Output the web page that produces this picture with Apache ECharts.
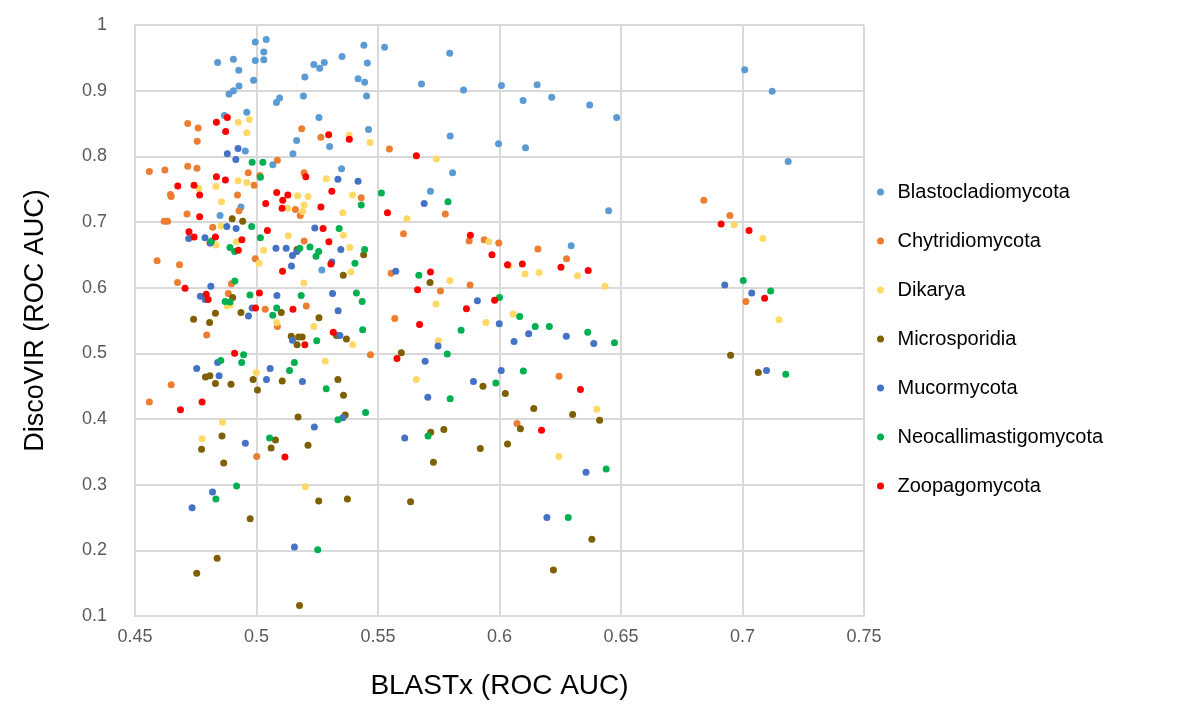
<!DOCTYPE html>
<html><head><meta charset="utf-8">
<script src="https://cdn.jsdelivr.net/npm/echarts@6/dist/echarts.min.js"></script>
<style>html,body{margin:0;padding:0;background:#fff}#c{width:1180px;height:705px}</style>
</head><body><div id="c"></div>
<script>
const seriesNames = ["Blastocladiomycota","Chytridiomycota","Dikarya","Microsporidia","Mucormycota","Neocallimastigomycota","Zoopagomycota"];
const seriesColors = ["#5B9BD5","#ED7D31","#FFD966","#7F6000","#4472C4","#00B050","#FF0000"];
const xTicks = [0.45,0.5,0.55,0.6,0.65,0.7,0.75];
const yTicks = [0.1,0.2,0.3,0.4,0.5,0.6,0.7,0.8,0.9,1];

const blastocladiomycota = [[0.504,0.978],[0.4995,0.974],[0.503,0.959],[0.4905,0.948],[0.484,0.943],[0.4995,0.946],[0.503,0.947],[0.4927,0.931],[0.4988,0.916],[0.4928,0.907],[0.4905,0.900],[0.4887,0.895],[0.5236,0.940],[0.526,0.934],[0.5199,0.921],[0.5095,0.889],[0.5082,0.882],[0.5193,0.892],[0.496,0.867],[0.4868,0.862],[0.5257,0.859],[0.5165,0.824],[0.515,0.804],[0.4954,0.808],[0.5067,0.787],[0.4936,0.723],[0.485,0.710],
[0.5442,0.969],[0.5527,0.966],[0.5352,0.952],[0.5279,0.943],[0.5456,0.942],[0.5418,0.918],[0.5445,0.913],[0.5795,0.957],[0.5679,0.910],[0.5852,0.901],[0.6008,0.908],[0.5453,0.892],[0.5461,0.841],[0.5797,0.831],[0.5996,0.819],[0.5301,0.815],[0.535,0.781],[0.5807,0.775],[0.5716,0.747],
[0.6155,0.909],[0.6097,0.885],[0.6215,0.890],[0.6371,0.878],[0.6482,0.859],[0.6107,0.813],[0.6449,0.717],
[0.7009,0.932],[0.7122,0.899],[0.7188,0.792],[0.6295,0.664],[0.5269,0.627]];

const chytridiomycota = [[0.4717,0.850],[0.476,0.843],[0.4756,0.823],[0.5186,0.842],[0.5265,0.829],[0.5086,0.794],[0.4559,0.777],[0.4623,0.779],[0.4717,0.785],[0.4755,0.782],[0.4966,0.775],[0.5014,0.771],[0.499,0.756],[0.5196,0.775],[0.4646,0.742],[0.4649,0.739],[0.4922,0.741],[0.4928,0.717],[0.4714,0.712],[0.516,0.719],[0.518,0.710],[0.462,0.701],[0.4634,0.701],
[0.5547,0.811],[0.5431,0.737],[0.5777,0.712],[0.6841,0.733],[0.6948,0.710],[0.7014,0.579],
[0.6158,0.659],[0.6276,0.644],[0.6245,0.465],[0.6072,0.393],
[0.5605,0.682],[0.5875,0.671],[0.5937,0.673],[0.5997,0.668],[0.5554,0.622],[0.5879,0.604],[0.5757,0.595],[0.5569,0.553],[0.5469,0.498],[0.5001,0.343],
[0.482,0.692],[0.4808,0.668],[0.4995,0.644],[0.5196,0.671],[0.4591,0.641],[0.4683,0.635],[0.4675,0.608],[0.4897,0.606],[0.4884,0.591],[0.5036,0.567],[0.5205,0.572],[0.5086,0.541],[0.4795,0.528],[0.4649,0.452],[0.4559,0.426]];

const dikarya = [[0.4925,0.852],[0.497,0.856],[0.496,0.836],[0.4924,0.763],[0.496,0.760],[0.4833,0.754],[0.4763,0.751],[0.5169,0.740],[0.5212,0.739],[0.4856,0.731],[0.5196,0.726],[0.5128,0.721],[0.519,0.716],
[0.5381,0.832],[0.5467,0.821],[0.574,0.796],[0.5287,0.766],[0.5395,0.741],[0.5355,0.714],[0.5619,0.705],
[0.6966,0.696],[0.7084,0.675],[0.715,0.551],
[0.6039,0.633],[0.6105,0.621],[0.6163,0.623],[0.6321,0.618],[0.6434,0.602],[0.6056,0.560],[0.64,0.415],[0.6244,0.343],
[0.5358,0.680],[0.5384,0.661],[0.5388,0.624],[0.5956,0.670],[0.5796,0.611],[0.5739,0.575],[0.5944,0.547],[0.5396,0.513],[0.5748,0.519],[0.5283,0.488],[0.5658,0.460],
[0.486,0.395],[0.4776,0.370],[0.5201,0.297],
[0.4854,0.694],[0.4833,0.665],[0.4917,0.670],[0.5029,0.657],[0.5011,0.637],[0.5131,0.679],[0.5195,0.607],[0.488,0.572],[0.4893,0.574],[0.5083,0.547],[0.5236,0.541],[0.4999,0.471]];

const microsporidia = [[0.490,0.705],[0.4943,0.701],[0.6951,0.497],[0.7065,0.471],
[0.6024,0.439],[0.6141,0.416],[0.6301,0.407],[0.6412,0.398],[0.6086,0.385],[0.6033,0.362],[0.6380,0.217],[0.6222,0.170],
[0.5441,0.650],[0.5357,0.619],[0.5714,0.608],[0.5329,0.527],[0.537,0.522],[0.5596,0.501],[0.5932,0.450],[0.5335,0.460],[0.5358,0.436],[0.5365,0.406],
[0.5717,0.380],[0.5771,0.384],[0.5921,0.355],[0.5728,0.334],[0.5374,0.278],[0.5634,0.274],
[0.4858,0.374],[0.4774,0.354],[0.5078,0.368],[0.506,0.356],[0.5212,0.360],[0.4865,0.333],[0.4974,0.248],[0.5256,0.275],[0.4838,0.188],[0.4754,0.165],[0.5177,0.116],
[0.5167,0.658],[0.4902,0.585],[0.5102,0.562],[0.4936,0.562],[0.4831,0.561],[0.4741,0.552],[0.4807,0.547],[0.5257,0.554],[0.5143,0.526],[0.5173,0.525],[0.5188,0.525],[0.5167,0.513],[0.479,0.464],[0.4808,0.466],[0.4831,0.454],[0.4895,0.453],[0.4986,0.460],[0.5106,0.458],[0.5004,0.444],[0.5171,0.403]];

const mucormycota = [[0.4924,0.812],[0.488,0.804],[0.4915,0.795],[0.5335,0.765],[0.5418,0.762],[0.569,0.728],
[0.6927,0.604],[0.7038,0.592],[0.7099,0.474],[0.612,0.530],[0.606,0.518],[0.6275,0.526],[0.6388,0.515],[0.6356,0.319],[0.6195,0.250],
[0.5347,0.658],[0.531,0.639],[0.5573,0.625],[0.5313,0.591],[0.5909,0.580],[0.5336,0.565],[0.5999,0.545],[0.5343,0.527],[0.5747,0.511],[0.5694,0.488],[0.6007,0.474],[0.5893,0.457],[0.5705,0.433],[0.5355,0.402],[0.561,0.371],
[0.4954,0.363],[0.5238,0.388],[0.4819,0.289],[0.4735,0.265],[0.5156,0.205],
[0.4721,0.675],[0.4788,0.676],[0.481,0.668],[0.4878,0.693],[0.4916,0.690],[0.508,0.660],[0.5122,0.660],[0.5148,0.649],[0.5166,0.655],[0.524,0.691],[0.5144,0.633],[0.4812,0.602],[0.4769,0.587],[0.4789,0.582],[0.5084,0.588],[0.4982,0.569],[0.4967,0.557],[0.5148,0.520],[0.484,0.486],[0.4754,0.477],[0.4846,0.466],[0.5056,0.477],[0.5041,0.460],[0.5189,0.457]];

const neocallimastigomycota = [[0.4982,0.791],[0.5026,0.791],[0.5016,0.768],[0.5431,0.726],[0.5514,0.744],[0.5788,0.731],
[0.7003,0.611],[0.7116,0.595],[0.7178,0.468],[0.6083,0.556],[0.6147,0.541],[0.6205,0.541],[0.6363,0.532],[0.6473,0.516],[0.6098,0.473],[0.6439,0.324],[0.6283,0.250],
[0.534,0.690],[0.5445,0.658],[0.5405,0.637],[0.5668,0.619],[0.5411,0.592],[0.5435,0.579],[0.6,0.585],[0.5842,0.535],[0.5437,0.536],[0.5785,0.499],[0.5985,0.455],[0.5287,0.446],[0.5797,0.431],[0.5449,0.410],[0.5335,0.399],[0.5706,0.374],
[0.5054,0.371],[0.4918,0.298],[0.4833,0.278],[0.5252,0.201],
[0.4815,0.671],[0.498,0.693],[0.5016,0.676],[0.4891,0.661],[0.491,0.655],[0.5178,0.660],[0.522,0.662],[0.5245,0.648],[0.5256,0.655],[0.4911,0.610],[0.4871,0.579],[0.4891,0.578],[0.4973,0.589],[0.5184,0.588],[0.5083,0.569],[0.5067,0.558],[0.5248,0.519],[0.4947,0.498],[0.4939,0.486],[0.4853,0.489],[0.5136,0.474],[0.5156,0.486]];

const zoopagomycota = [[0.488,0.859],[0.4835,0.852],[0.4873,0.838],[0.4835,0.769],[0.4872,0.764],[0.4676,0.755],[0.4743,0.756],[0.4766,0.741],[0.5203,0.769],[0.5083,0.745],[0.5108,0.733],[0.5129,0.741],[0.5038,0.728],[0.5105,0.721],[0.4766,0.708],[0.5265,0.723],
[0.5297,0.833],[0.5382,0.826],[0.5658,0.801],[0.531,0.747],[0.5539,0.714],
[0.6912,0.697],[0.7027,0.687],[0.7091,0.584],[0.6033,0.635],[0.6094,0.636],[0.6253,0.631],[0.6365,0.626],[0.6333,0.445],[0.6173,0.383],
[0.5274,0.690],[0.5298,0.670],[0.5306,0.636],[0.588,0.680],[0.5969,0.650],[0.5716,0.624],[0.5663,0.597],[0.598,0.581],[0.5864,0.568],[0.5671,0.544],[0.5316,0.532],[0.5578,0.492],[0.5117,0.342],
[0.4722,0.685],[0.4743,0.677],[0.4831,0.677],[0.5045,0.687],[0.494,0.673],[0.4925,0.657],[0.5107,0.625],[0.4706,0.599],[0.4793,0.590],[0.4801,0.582],[0.5012,0.592],[0.4996,0.569],[0.515,0.567],[0.5199,0.513],[0.491,0.500],[0.4687,0.414],[0.4776,0.426]];

const allData = [blastocladiomycota, chytridiomycota, dikarya, microsporidia, mucormycota, neocallimastigomycota, zoopagomycota];

const chart = echarts.init(document.getElementById('c'), null, {renderer:'canvas'});
const font = '"Liberation Sans", Arial, sans-serif';
const fmt = v => String(+(+v).toFixed(2));
chart.setOption({
  animation:false,
  backgroundColor:'#fff',
  color: seriesColors,
  grid:{left:135, right:316, top:25, bottom:88, containLabel:false},
  legend:{
    orient:'vertical', left:872, top:177, itemWidth:24, itemHeight:7, itemGap:29,
    icon:'circle', selectedMode:false,
    textStyle:{fontFamily:font, fontSize:20, color:'#000', lineHeight:20},
    data: seriesNames
  },
  xAxis:{
    type:'value', min:xTicks[0], max:xTicks[xTicks.length-1], interval:0.05,
    name:'BLASTx (ROC AUC)', nameLocation:'middle', nameGap:56,
    nameTextStyle:{fontFamily:font, fontSize:28, color:'#000'},
    axisLine:{show:true, lineStyle:{color:'#d9d9d9', width:2}},
    axisTick:{show:false},
    axisLabel:{fontFamily:font, fontSize:18, color:'#595959', margin:12, formatter:fmt},
    splitLine:{show:true, lineStyle:{color:'#d9d9d9', width:2}}
  },
  yAxis:{
    type:'value', min:yTicks[0], max:yTicks[yTicks.length-1], interval:0.1,
    name:'DiscoVIR (ROC AUC)', nameLocation:'middle', nameGap:86, nameRotate:90,
    nameTextStyle:{fontFamily:font, fontSize:27, color:'#000'},
    axisLine:{show:true, lineStyle:{color:'#d9d9d9', width:2}},
    axisTick:{show:false},
    axisLabel:{fontFamily:font, fontSize:18, color:'#595959', margin:28, formatter:fmt},
    splitLine:{show:true, lineStyle:{color:'#d9d9d9', width:2}}
  },
  series: seriesNames.map((n,i)=>({
    name:n, type:'scatter', data:allData[i], symbol:'circle', symbolSize:7,
    itemStyle:{color:seriesColors[i], opacity:1}, emphasis:{disabled:true}
  }))
});
</script></body></html>
